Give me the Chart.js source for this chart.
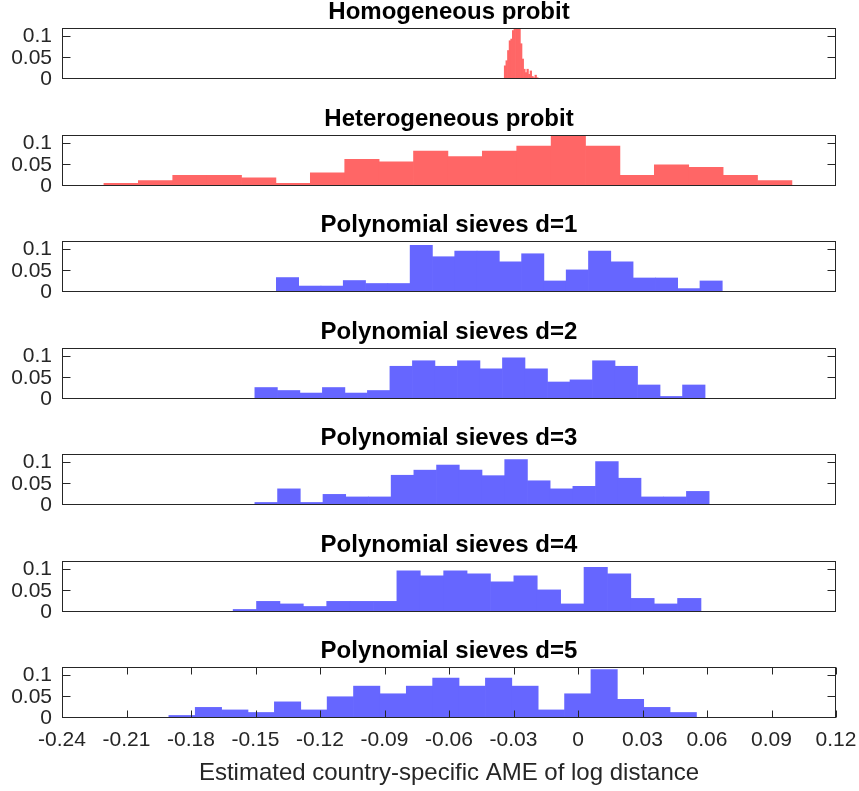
<!DOCTYPE html>
<html>
<head>
<meta charset="utf-8">
<script src="https://cdn.jsdelivr.net/npm/chart.js@4.4.1/dist/chart.umd.min.js"></script>
<style>
  html, body { margin: 0; padding: 0; background: #ffffff; overflow: hidden; }
  #wrap { position: relative; width: 859px; height: 791px; }
  #wrap canvas { position: absolute; left: 0; }
</style>
</head>
<body>
<div id="wrap"></div>
<script>
// ---------- data ----------
const panelTitles = [
  'Homogeneous probit',
  'Heterogeneous probit',
  'Polynomial sieves d=1',
  'Polynomial sieves d=2',
  'Polynomial sieves d=3',
  'Polynomial sieves d=4',
  'Polynomial sieves d=5'
];
const xTickValues = [-0.24, -0.21, -0.18, -0.15, -0.12, -0.09, -0.06, -0.03, 0, 0.03, 0.06, 0.09, 0.12];
const yTickValues = [0, 0.05, 0.1];
const xLabel = 'Estimated country-specific AME of log distance';

// histogram bin starts and bin widths
const binStart = [-0.0343, -0.2205, -0.1403, -0.1503, -0.1503, -0.1604, -0.1903];
const binWidth = [0.00075, 0.016, 0.01037, 0.01047, 0.010565, 0.01088, 0.01227];

// bar heights (relative frequency)
const homProbit = [0.031, 0.043, 0.067, 0.090, 0.094, 0.114, 0.130, 0.140, 0.130, 0.118, 0.083,
                   0.047, 0.023, 0.015, 0.023, 0.011, 0.019, 0.006, 0.003, 0.009, 0.003];
const hetProbit = [0.006, 0.013, 0.025, 0.025, 0.019, 0.006, 0.031, 0.063, 0.057, 0.082,
                   0.069, 0.082, 0.094, 0.119, 0.094, 0.025, 0.050, 0.044, 0.025, 0.013];
const sieveD1 = [0.034, 0.014, 0.014, 0.027, 0.020, 0.020, 0.110, 0.083, 0.096, 0.096,
                 0.071, 0.090, 0.026, 0.052, 0.096, 0.071, 0.033, 0.033, 0.008, 0.026];
const sieveD2 = [0.027, 0.020, 0.014, 0.027, 0.014, 0.020, 0.077, 0.090, 0.077, 0.090,
                 0.071, 0.097, 0.071, 0.040, 0.045, 0.090, 0.077, 0.033, 0.006, 0.033];
const sieveD3 = [0.006, 0.038, 0.006, 0.025, 0.019, 0.019, 0.070, 0.082, 0.094, 0.082,
                 0.069, 0.107, 0.057, 0.038, 0.044, 0.102, 0.063, 0.019, 0.019, 0.032];
const sieveD4 = [0.006, 0.025, 0.019, 0.013, 0.025, 0.025, 0.025, 0.097, 0.085, 0.097,
                 0.090, 0.071, 0.085, 0.052, 0.019, 0.105, 0.090, 0.032, 0.019, 0.032];
const sieveD5 = [0.006, 0.025, 0.019, 0.013, 0.038, 0.019, 0.050, 0.075, 0.057, 0.075,
                 0.094, 0.075, 0.094, 0.075, 0.019, 0.057, 0.114, 0.044, 0.025, 0.013];

const panelValues = [homProbit, hetProbit, sieveD1, sieveD2, sieveD3, sieveD4, sieveD5];
const panelColors = ['#ff6666', '#ff6666', '#6666ff', '#6666ff', '#6666ff', '#6666ff', '#6666ff'];

// ---------- layout ----------
const W = 859;
const panelTops = [28, 135, 241, 348, 454, 561, 667];
const PLOT_H = 51, TITLE_H = 28, LEFT = 62, RIGHT_PAD = 23;
const AXIS = '#262626';
const FONT = '"Liberation Sans", Arial, Helvetica, sans-serif';

Chart.defaults.font.family = FONT;
Chart.defaults.color = AXIS;

const framePlugin = {
  id: 'frame',
  afterDatasetsDraw(chart, args, opts) {
    const { ctx, chartArea: a, scales } = chart;
    const L = Math.round(a.left) + 0.5, R = Math.round(a.right) - 0.5;
    const T = Math.round(a.top) + 0.5, B = Math.round(a.bottom) - 0.5;
    ctx.save();
    ctx.strokeStyle = AXIS;
    ctx.lineWidth = 1;
    ctx.strokeRect(L, T, R - L, B - T);
    ctx.beginPath();
    scales.y.ticks.forEach(t => {
      const py = Math.round(scales.y.getPixelForValue(t.value)) - 0.5;
      ctx.moveTo(L, py); ctx.lineTo(L + 8, py);
      ctx.moveTo(R, py); ctx.lineTo(R - 8, py);
    });
    if (opts.xTicks) {
      xTickValues.forEach(v => {
        const px = Math.round(scales.x.getPixelForValue(v)) + 0.5;
        ctx.moveTo(px, B); ctx.lineTo(px, B - 7);
        ctx.moveTo(px, T); ctx.lineTo(px, T + 7);
      });
    }
    ctx.stroke();
    ctx.restore();
  }
};

function noOverhang(s) {
  s.paddingTop = 0; s.paddingBottom = 0; s.paddingLeft = 0; s.paddingRight = 0;
}

const wrap = document.getElementById('wrap');
panelTitles.forEach((title, i) => {
  const isLast = i === panelTitles.length - 1;
  const bottomH = isLast ? 73 : 20;
  const H = TITLE_H + PLOT_H + bottomH;
  const cv = document.createElement('canvas');
  cv.width = W; cv.height = H;
  cv.style.width = W + 'px'; cv.style.height = H + 'px';
  cv.style.top = (panelTops[i] - TITLE_H) + 'px';
  wrap.appendChild(cv);

  const vals = panelValues[i];
  const data = vals.map((v, k) => ({ x: binStart[i] + binWidth[i] * (k + 0.5), y: v }));

  new Chart(cv, {
    type: 'bar',
    data: {
      datasets: [{
        data: data,
        backgroundColor: panelColors[i],
        borderWidth: 0,
        categoryPercentage: 1.0,
        barPercentage: 1.0
      }]
    },
    plugins: [framePlugin],
    options: {
      responsive: false,
      animation: false,
      devicePixelRatio: 1,
      layout: { padding: { left: 0, right: RIGHT_PAD, top: 0, bottom: isLast ? 0 : bottomH } },
      plugins: {
        legend: { display: false },
        tooltip: { enabled: false },
        title: {
          display: true,
          fullSize: false,
          text: title,
          color: '#000000',
          font: { size: 24, weight: 'bold', lineHeight: 25 / 24 },
          padding: { top: 0, bottom: TITLE_H - 25 }
        },
        frame: { xTicks: isLast }
      },
      scales: {
        x: {
          type: 'linear',
          min: -0.24, max: 0.12,
          offset: false,
          display: isLast,
          grid: { display: false, drawTicks: false, offset: false },
          border: { display: false },
          afterBuildTicks: s => { s.ticks = xTickValues.map(v => ({ value: v })); },
          afterFit: s => { if (isLast) s.height = bottomH; noOverhang(s); },
          ticks: {
            autoSkip: false, maxRotation: 0, minRotation: 0,
            padding: 10,
            font: { size: 21 },
            color: AXIS,
            callback: v => String(v)
          },
          title: {
            display: isLast,
            text: xLabel,
            color: AXIS,
            font: { size: 24 },
            padding: { top: 0, bottom: 3.6 }
          }
        },
        y: {
          min: 0, max: 0.12,
          grid: { display: false, drawTicks: false },
          border: { display: false },
          afterBuildTicks: s => { s.ticks = yTickValues.map(v => ({ value: v })); },
          afterFit: s => { s.width = LEFT; noOverhang(s); },
          ticks: {
            autoSkip: false,
            padding: 10,
            font: { size: 21 },
            color: AXIS,
            callback: v => String(v)
          }
        }
      }
    }
  });
});
</script>
</body>
</html>
